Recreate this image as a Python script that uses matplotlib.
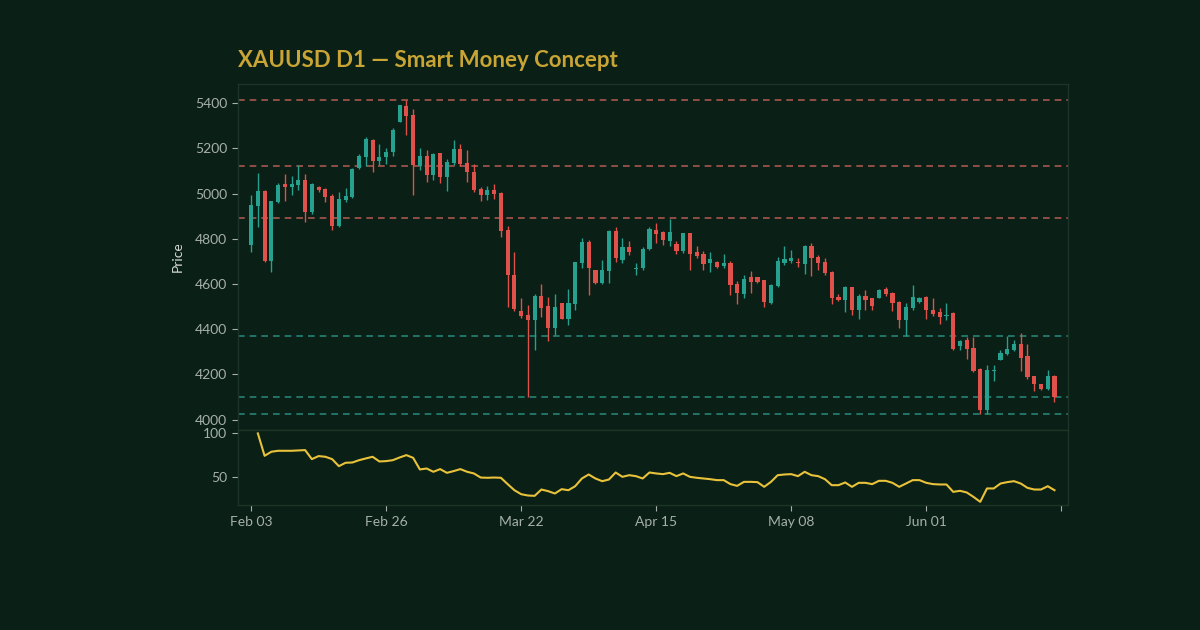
import numpy as np
import pandas as pd
import matplotlib
matplotlib.use("Agg")
import matplotlib.pyplot as plt

# -----------------------
# data
# -----------------------
opens = [4772, 4946, 5013, 4703, 4964, 5041, 5030, 5038, 5060, 4917,
         5030, 5019, 4991, 4858, 4972, 4986, 5112, 5163, 5237, 5146,
         5163, 5183, 5318, 5388, 5348, 5124, 5166, 5082, 5178, 5075,
         5136, 5196, 5134, 5097, 5019, 4994, 5016, 5004, 4839, 4642,
         4480, 4465, 4440, 4548, 4503, 4406, 4514, 4444, 4511, 4691,
         4787, 4664, 4605, 4658, 4836, 4706, 4762, 4667, 4669, 4757,
         4839, 4828, 4791, 4777, 4747, 4824, 4743, 4732, 4694, 4698,
         4679, 4694, 4602, 4558, 4629, 4629, 4617, 4517, 4591, 4694,
         4703, 4698, 4688, 4768, 4720, 4698, 4654, 4543, 4531, 4585,
         4487, 4546, 4540, 4540, 4576, 4561, 4521, 4443, 4492, 4521,
         4543, 4484, 4477, 4459, 4472, 4325, 4351, 4319, 4226, 4041,
         4216, 4266, 4289, 4310, 4334, 4280, 4192, 4159, 4137, 4192]
highs = [4994, 5090, 5016, 4967, 5045, 5087, 5078, 5127, 5087, 5045,
         5035, 5023, 4997, 5005, 5023, 5112, 5174, 5249, 5242, 5218,
         5203, 5289, 5393, 5416, 5375, 5203, 5193, 5178, 5178, 5153,
         5237, 5218, 5193, 5130, 5031, 5035, 5041, 5008, 4858, 4740,
         4539, 4509, 4554, 4602, 4543, 4554, 4517, 4580, 4698, 4802,
         4794, 4664, 4706, 4839, 4853, 4802, 4791, 4691, 4765, 4853,
         4871, 4836, 4886, 4791, 4827, 4827, 4768, 4747, 4743, 4703,
         4732, 4703, 4614, 4639, 4658, 4632, 4620, 4602, 4720, 4768,
         4750, 4713, 4772, 4780, 4728, 4713, 4658, 4555, 4590, 4588,
         4555, 4573, 4540, 4580, 4585, 4565, 4526, 4514, 4595, 4543,
         4546, 4540, 4496, 4514, 4477, 4351, 4366, 4366, 4230, 4240,
         4240, 4307, 4369, 4354, 4384, 4334, 4192, 4159, 4221, 4196]
lows = [4743, 4853, 4698, 4654, 4960, 4967, 4994, 5016, 4876, 4911,
        5008, 4961, 4839, 4853, 4961, 4982, 5109, 5124, 5094, 5127,
        5130, 5168, 5316, 5260, 4994, 5104, 5050, 5060, 5045, 5013,
        5127, 5124, 5050, 5008, 4967, 4972, 4976, 4809, 4499, 4480,
        4450, 4100, 4307, 4455, 4347, 4376, 4444, 4418, 4484, 4669,
        4550, 4599, 4599, 4605, 4698, 4694, 4728, 4639, 4661, 4750,
        4783, 4772, 4768, 4732, 4738, 4664, 4717, 4661, 4654, 4673,
        4669, 4551, 4511, 4540, 4561, 4605, 4499, 4511, 4585, 4683,
        4694, 4676, 4644, 4635, 4664, 4639, 4511, 4525, 4477, 4462,
        4447, 4487, 4487, 4536, 4546, 4481, 4407, 4369, 4487, 4517,
        4447, 4458, 4422, 4443, 4307, 4307, 4270, 4211, 4026, 4024,
        4171, 4263, 4285, 4304, 4215, 4181, 4127, 4133, 4133, 4078]
closes = [4949, 5011, 4703, 4967, 5038, 5030, 5044, 5060, 4920, 5041,
          5016, 4986, 4858, 4976, 4991, 5109, 5166, 5240, 5144, 5163,
          5183, 5282, 5390, 5343, 5127, 5166, 5082, 5174, 5075, 5138,
          5196, 5130, 5097, 5016, 4994, 5016, 4997, 4834, 4639, 4491,
          4459, 4440, 4548, 4492, 4406, 4499, 4444, 4514, 4698, 4787,
          4669, 4605, 4661, 4834, 4713, 4765, 4742, 4673, 4757, 4842,
          4821, 4794, 4831, 4747, 4824, 4735, 4723, 4688, 4709, 4676,
          4694, 4595, 4561, 4624, 4610, 4610, 4521, 4595, 4701, 4709,
          4717, 4694, 4768, 4717, 4694, 4647, 4536, 4531, 4585, 4487,
          4546, 4531, 4502, 4573, 4555, 4514, 4443, 4499, 4543, 4540,
          4484, 4469, 4452, 4465, 4314, 4348, 4314, 4215, 4041, 4221,
          4219, 4295, 4314, 4334, 4275, 4189, 4156, 4137, 4192, 4100]

# oscillator, first value undefined
osc = [np.nan, 100.0, 74.2, 78.9, 80.0, 80.0, 80.0, 80.4, 80.8, 70.4,
       73.9, 73.1, 70.4, 62.3, 66.2, 66.5, 69.2, 71.2, 73.1, 67.7,
       68.1, 69.2, 72.3, 75.0, 71.9, 58.5, 59.6, 55.8, 58.9, 54.6,
       56.6, 58.9, 55.8, 53.9, 49.2, 48.9, 49.2, 48.9, 41.6, 34.6,
       30.0, 28.5, 28.1, 35.4, 33.5, 30.8, 35.8, 34.6, 39.2, 48.1,
       52.7, 48.1, 45.0, 46.9, 55.0, 50.0, 51.9, 50.8, 48.1, 55.0,
       53.9, 53.1, 54.6, 50.8, 53.9, 50.0, 48.9, 48.1, 47.3, 46.2,
       46.2, 41.6, 39.6, 44.2, 44.2, 43.9, 38.5, 44.2, 51.9, 52.7,
       53.1, 50.8, 55.8, 51.9, 50.8, 47.3, 40.4, 40.4, 43.5, 38.5,
       43.1, 43.1, 41.6, 45.4, 45.4, 43.1, 38.5, 42.3, 46.2, 46.2,
       43.1, 41.6, 41.2, 41.2, 32.7, 33.9, 32.0, 26.9, 21.2, 36.6,
       36.6, 42.3, 43.9, 45.0, 42.3, 37.3, 35.4, 35.4, 39.2, 34.6]

supply_levels = [5416, 5122, 4893]
demand_levels = [4368, 4100, 4024]

# daily bars: Sunday-Friday sessions, Good Friday closed
dates = pd.bdate_range("2026-02-03", periods=len(opens), freq="C",
                       weekmask="Sun Mon Tue Wed Thu Fri",
                       holidays=["2026-04-03"])

BG = "#0a1f15"
BULL = "#26a08f"
BEAR = "#e0514c"
TXT = "#a7b0ab"
SPINE = "#1d3428"


def main():
    plt.rcParams["font.family"] = ["Lato", "DejaVu Sans"]

    o = np.array(opens, dtype=float)
    h = np.array(highs, dtype=float)
    l = np.array(lows, dtype=float)
    c = np.array(closes, dtype=float)
    n = len(o)
    x = np.arange(n)
    up = c >= o
    colors = np.where(up, BULL, BEAR)

    fig, (ax, ax2) = plt.subplots(
        2, 1, figsize=(12, 6.3), dpi=100, sharex=True,
        gridspec_kw={"height_ratios": [345, 75], "hspace": 0},
    )
    fig.patch.set_facecolor(BG)
    fig.subplots_adjust(left=0.198, right=0.89, top=0.867, bottom=0.198)

    # -----------------------
    # price panel
    # -----------------------
    ax.vlines(x, l, h, colors=colors, linewidth=1.0, zorder=2)
    ax.bar(x, np.maximum(np.abs(c - o), 2), bottom=np.minimum(o, c),
           width=0.62, color=colors, linewidth=0, zorder=3)

    for lv in supply_levels:
        ax.axhline(lv, color="#c4605a", linestyle=(0, (4, 3)),
                   linewidth=1.2, alpha=0.85, zorder=1)
    for lv in demand_levels:
        ax.axhline(lv, color="#2b9585", linestyle=(0, (4, 3)),
                   linewidth=1.2, alpha=0.85, zorder=1)

    ax.set_yticks(np.arange(4000, 5401, 200))
    ax.set_ylabel("Price", color="#d6dbd8", fontsize=10, labelpad=8)
    ax.set_title("XAUUSD D1 \u2014 Smart Money Concept", loc="left",
                 color="#c9a535", fontsize=16, fontweight="bold", pad=12)

    # -----------------------
    # oscillator panel
    # -----------------------
    ax2.plot(x, osc, color="#e8c23a", linewidth=1.5)
    ax2.set_yticks([50, 100])

    ticks = np.arange(0, n + 1, 20)
    labels = [dates[t].strftime("%b %d") if t < n else "" for t in ticks]
    ax2.set_xticks(ticks)
    ax2.set_xticklabels(labels)
    ax2.set_xlim(-2, n + 1)

    for a in (ax, ax2):
        a.set_facecolor(BG)
        for s in a.spines.values():
            s.set_color(SPINE)
            s.set_linewidth(1.0)
        a.tick_params(colors=TXT, labelsize=10, length=4, width=0.8)
    ax.tick_params(axis="x", length=0)

    fig.savefig("out.png", dpi=100, facecolor=BG)
    plt.close(fig)


if __name__ == "__main__":
    main()
